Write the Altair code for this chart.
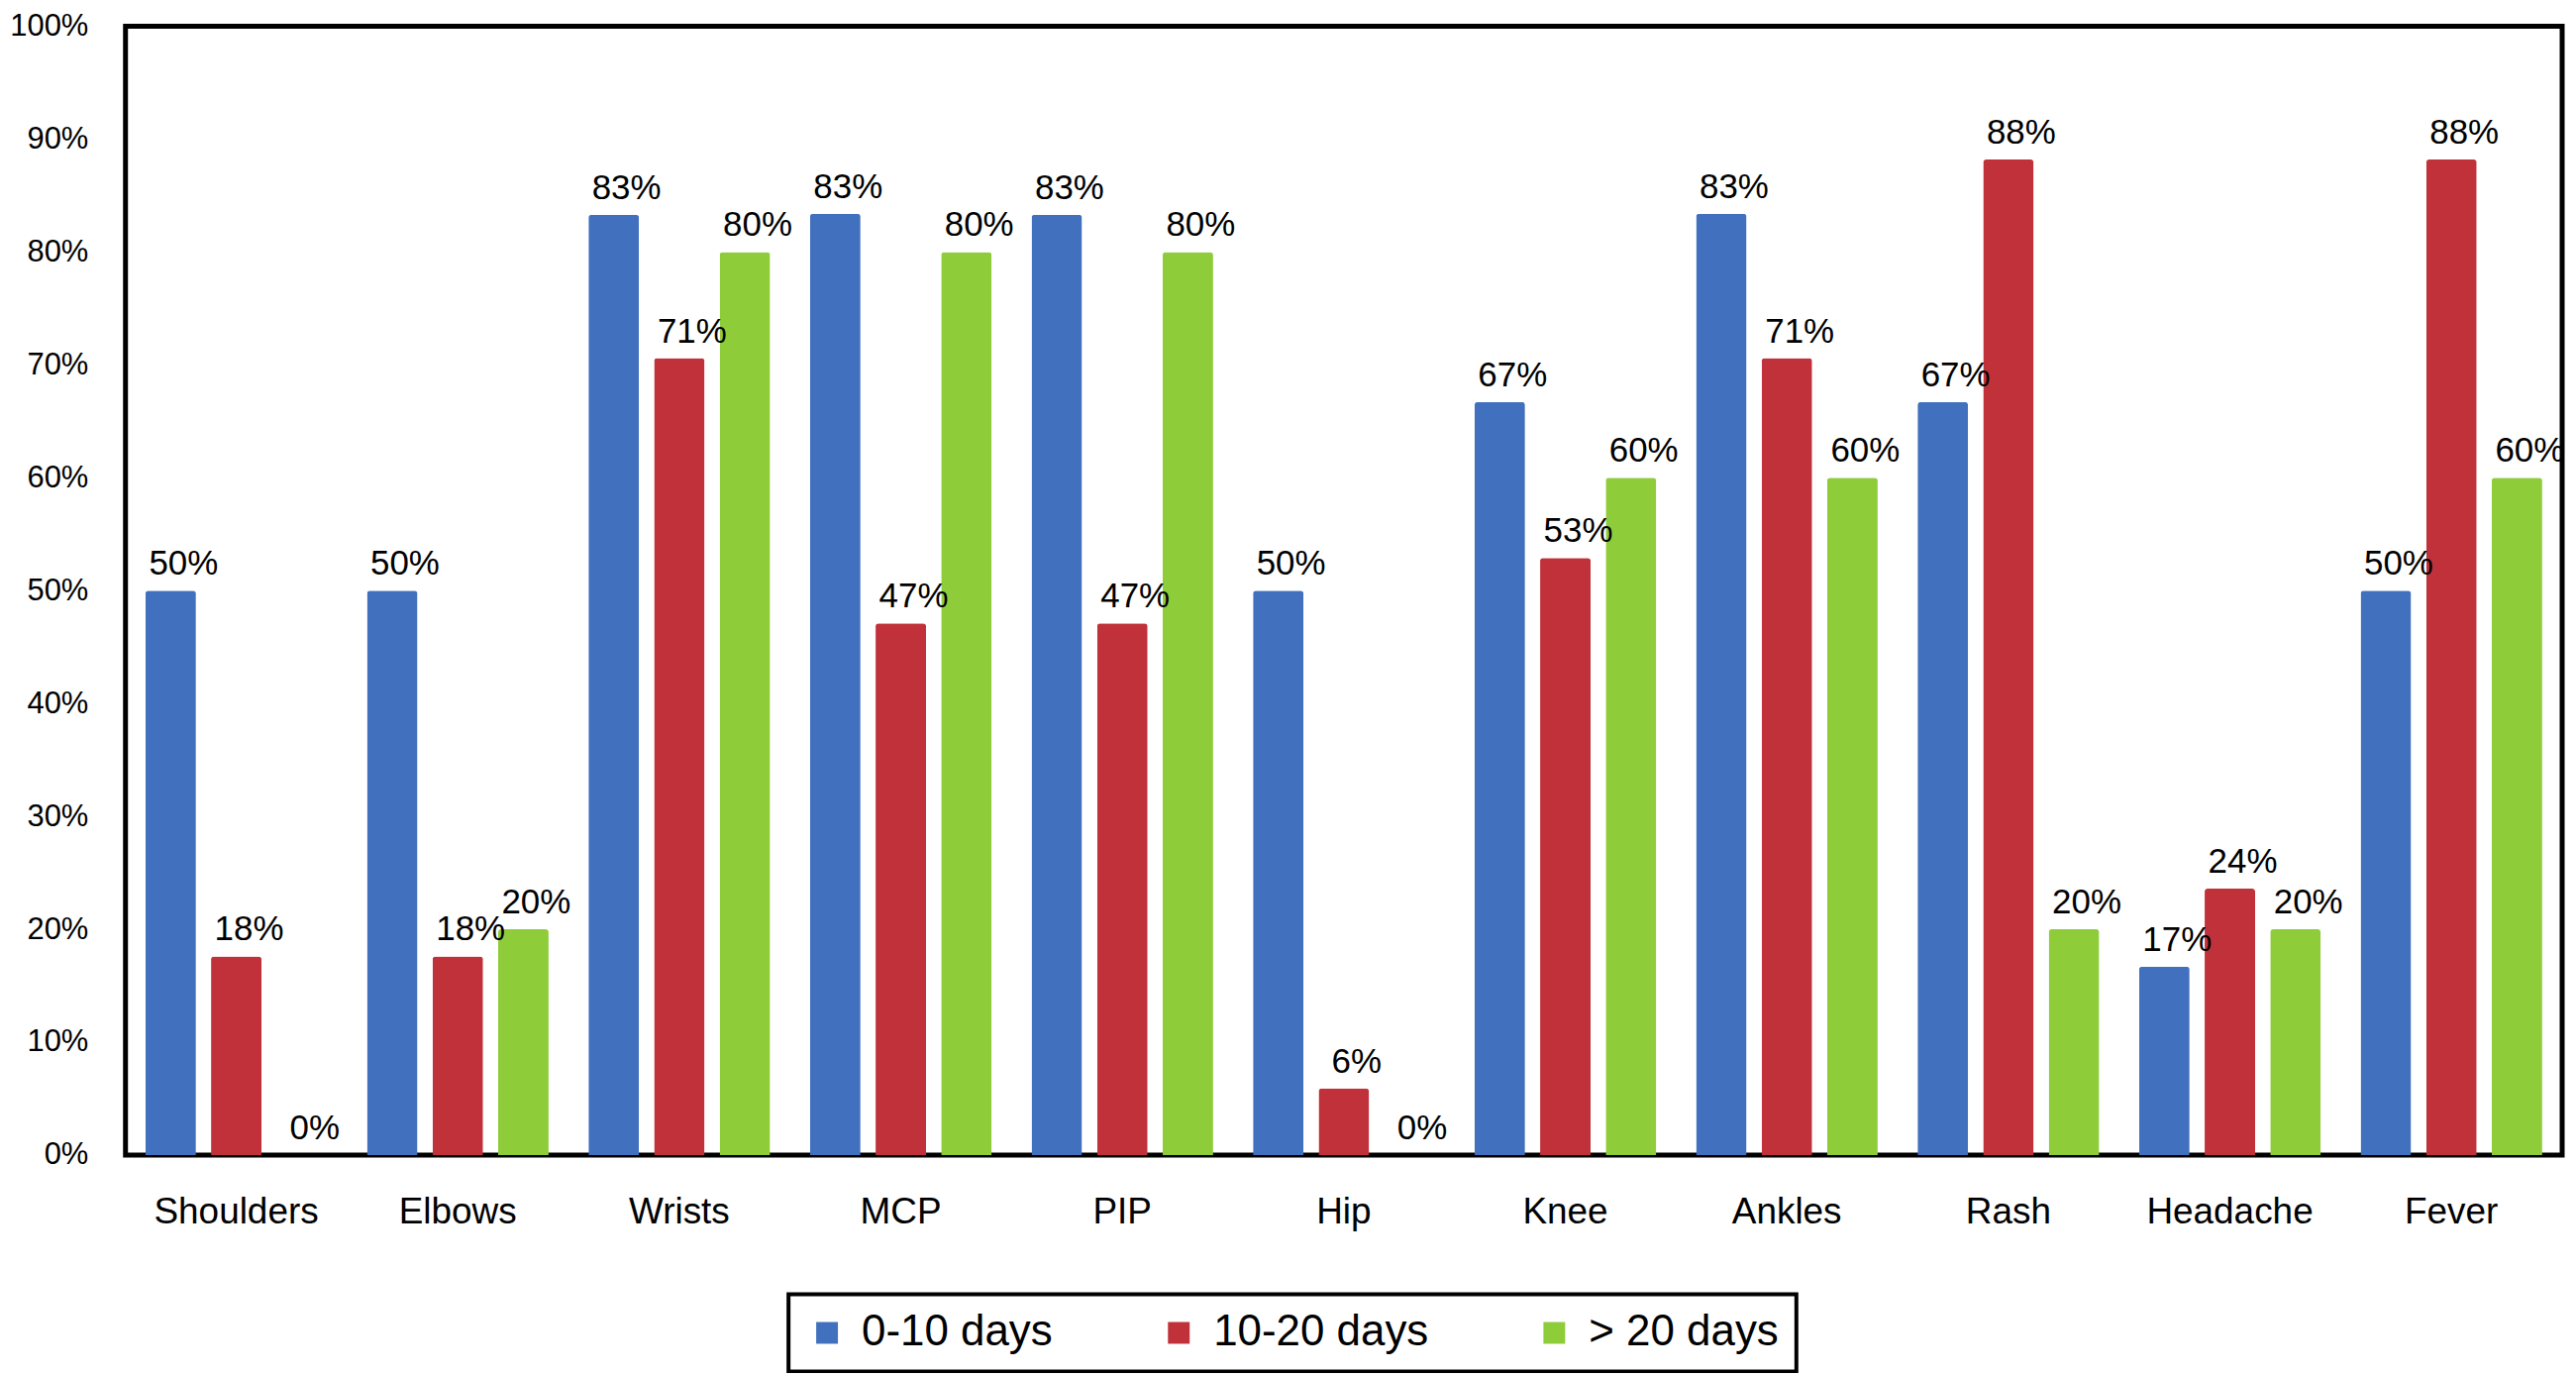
import altair as alt
import pandas as pd

categories = ["Shoulders", "Elbows", "Wrists", "MCP", "PIP", "Hip", "Knee",
              "Ankles", "Rash", "Headache", "Fever"]
series = ["0-10 days", "10-20 days", "> 20 days"]
colors = ["#4170BE", "#C0313A", "#8ECC3A"]

days_0_10 = [0.500, 0.500, 0.833, 0.834, 0.833, 0.500, 0.667, 0.834, 0.667, 0.167, 0.500]
days_10_20 = [0.176, 0.176, 0.706, 0.471, 0.471, 0.059, 0.529, 0.706, 0.882, 0.236, 0.882]
days_20_plus = [0.000, 0.200, 0.800, 0.800, 0.800, 0.000, 0.600, 0.600, 0.200, 0.200, 0.600]

y_ticks = [i / 10 for i in range(11)]

rows = []
for s, vals in zip(series, [days_0_10, days_10_20, days_20_plus]):
    for c, v in zip(categories, vals):
        rows.append({"category": c, "series": s, "value": v})
df = pd.DataFrame(rows)

FONT = "Liberation Sans"

base = alt.Chart(df).encode(
    x=alt.X("category:N", sort=categories,
            scale=alt.Scale(paddingInner=0.18, paddingOuter=0.09),
            axis=alt.Axis(title=None, labelAngle=0, ticks=False, domain=False,
                          labelFontSize=37, labelPadding=40, labelColor="black",
                          labelFont=FONT)),
    xOffset=alt.XOffset("series:N", sort=series,
                        scale=alt.Scale(paddingInner=0.23, paddingOuter=0)),
    y=alt.Y("value:Q", scale=alt.Scale(domain=[0, 1], nice=False),
            axis=alt.Axis(title=None, values=y_ticks, format=".0%", ticks=False,
                          domain=False, grid=False, labelFontSize=31,
                          labelPadding=38, labelColor="black", labelFont=FONT)),
)

bars = base.mark_bar(cornerRadiusTopLeft=3, cornerRadiusTopRight=3).encode(
    color=alt.Color("series:N", sort=series,
                    scale=alt.Scale(domain=series, range=colors),
                    legend=alt.Legend(title=None, orient="none", direction="horizontal",
                                      legendX=671, legendY=1283,
                                      symbolType="square", symbolSize=484,
                                      symbolStrokeWidth=0,
                                      labelFontSize=44, labelFont=FONT,
                                      labelColor="black", labelOffset=13,
                                      labelLimit=600,
                                      columnPadding=105, padding=17,
                                      strokeColor="black",
                                      fillColor="white"))
)

labels = base.mark_text(baseline="alphabetic", align="center", dx=13, dy=-16,
                        fontSize=35, font=FONT, color="black").encode(
    text=alt.Text("value:Q", format=".0%")
)

chart = (bars + labels).properties(
    width=2466, height=1142,
    autosize=alt.AutoSizeParams(type="none"),
    padding={"left": 119, "top": 17, "right": 6, "bottom": 219},
    background="white",
).configure_view(stroke="black", strokeWidth=5).configure_axis(
    grid=False
).configure_legend(strokeWidth=4)

chart.save("out.html", embed_options={"renderer": "svg", "actions": False})
